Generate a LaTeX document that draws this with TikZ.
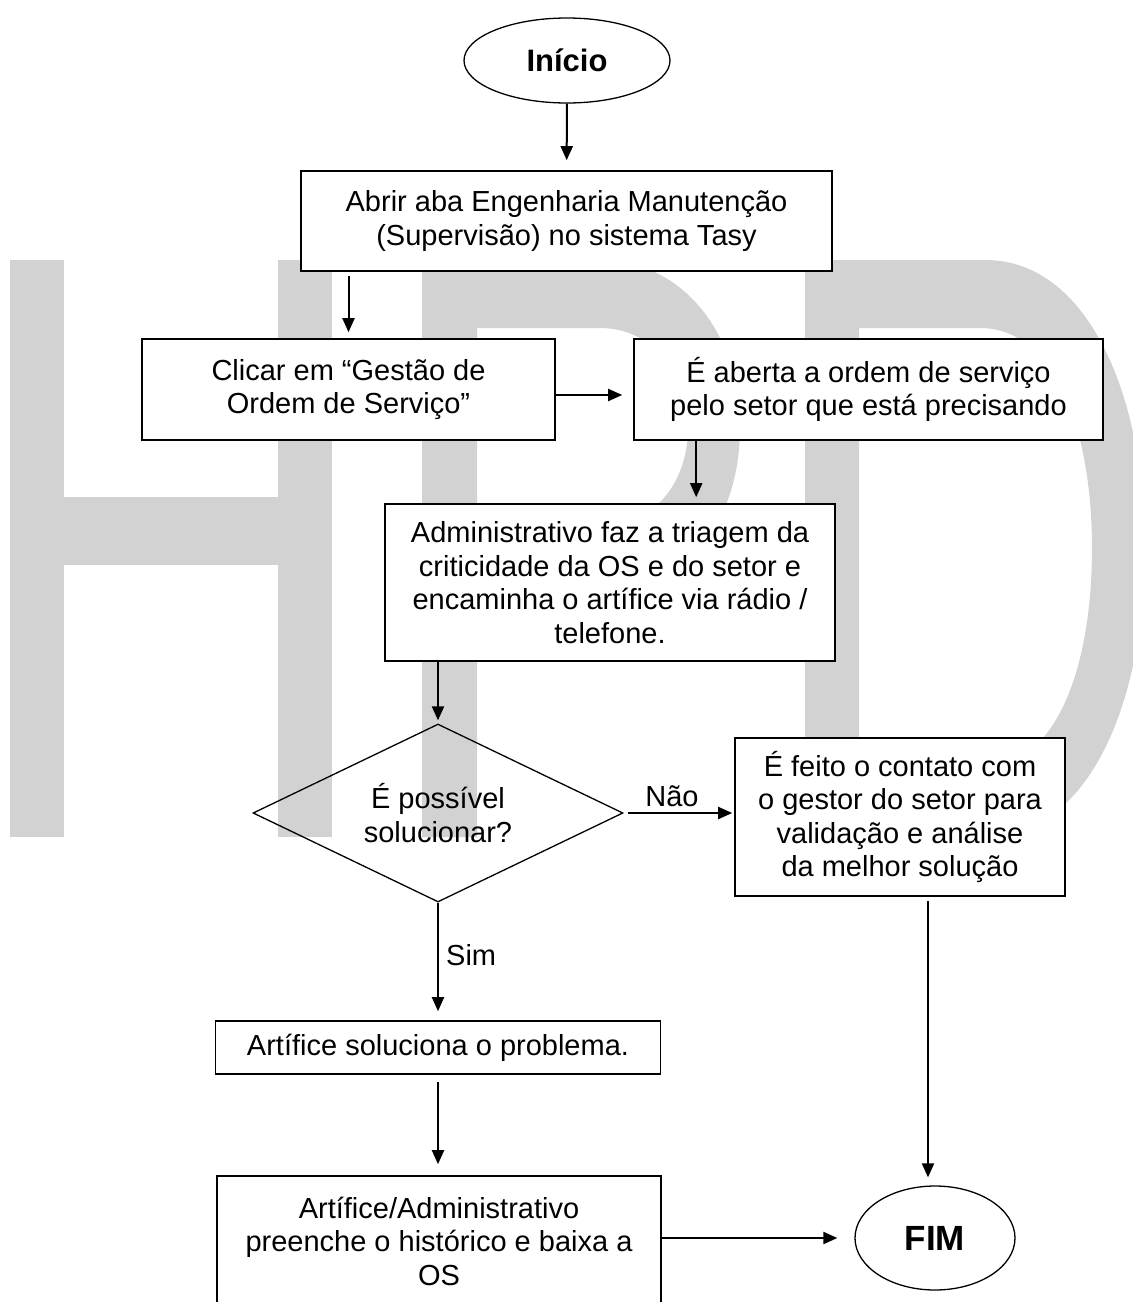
\documentclass[tikz,border=0pt]{standalone}
\usepackage{fontspec}
\setmainfont{Liberation Sans}
\usetikzlibrary{shapes.geometric,arrows.meta,calc}
\definecolor{wm}{RGB}{210,210,210}
\tikzset{
 box/.style={draw=black, line width=1.6pt, fill=white, rectangle, align=center, inner sep=0pt, font=\fontsize{29}{33.5}\selectfont},
 term/.style={draw=black, line width=1.3pt, fill=white, ellipse, inner sep=0pt},
 arr/.style={line width=2pt, -{Triangle[length=14pt,width=12pt]}},
 lbl/.style={font=\fontsize{29}{33.5}\selectfont, inner sep=0pt, align=center},
}
\begin{document}
\begin{tikzpicture}[x=1pt,y=-1pt]
\useasboundingbox (0,0) rectangle (1133,1302);
\clip (0,0) rectangle (1133,1302);
% watermark HPD
\fill[wm] (10,260) rectangle (64,837);
\fill[wm] (278,260) rectangle (332,837);
\fill[wm] (64,497) rectangle (278,565);
\fill[wm, even odd rule] (422,260) -- (600,260) .. controls (680,260) and (740,330) .. (740,428)
  .. controls (740,526) and (680,595) .. (600,595) -- (477,595) -- (477,837) -- (422,837) -- cycle
  (477,328) -- (600,328) .. controls (650,328) and (688,370) .. (688,428)
  .. controls (688,486) and (650,527) .. (600,527) -- (477,527) -- cycle;
\fill[wm, even odd rule] (805,260) -- (985,260) .. controls (1090,260) and (1145,400) .. (1145,548)
  .. controls (1145,700) and (1090,837) .. (985,837) -- (805,837) -- cycle
  (859,328) -- (980,328) .. controls (1055,328) and (1092,430) .. (1092,548)
  .. controls (1092,670) and (1055,769) .. (980,769) -- (859,769) -- cycle;
% nodes
\node[term, minimum width=206pt, minimum height=85pt, font=\bfseries\fontsize{31}{36}\selectfont] (start) at (567,60.5) {Início};
\node[box, minimum width=531pt, minimum height=100pt] (abrir) at (566.5,221) {Abrir aba Engenharia Manutenção\\(Supervisão) no sistema Tasy};
\node[box, minimum width=413pt, minimum height=101pt] (clicar) at (348.5,389.5) {Clicar em “Gestão de\\Ordem de Serviço”};
\node[box, minimum width=469pt, minimum height=101pt] (aberta) at (868.5,389.5) {É aberta a ordem de serviço\\pelo setor que está precisando};
\node[box, minimum width=450pt, minimum height=157pt] (adm) at (610,582.5) {Administrativo faz a triagem da\\criticidade da OS e do setor e\\encaminha o artífice via rádio /\\telefone.};
\node[diamond, draw=black, line width=1.3pt, minimum width=370pt, minimum height=178pt, inner sep=0pt] (dec) at (438,813) {};
\node[lbl] (declbl) at (dec.center) {É possível\\solucionar?};
\node[box, minimum width=330pt, minimum height=158pt] (feito) at (900,817) {É feito o contato com\\o gestor do setor para\\validação e análise\\da melhor solução};
\node[box, minimum width=445pt, minimum height=53pt] (art) at (438,1047.5) {Artífice soluciona o problema.};
\node[box, minimum width=444pt, minimum height=130pt] (artadm) at (439,1241) {Artífice/Administrativo\\preenche o histórico e baixa a\\OS};
\node[term, minimum width=160pt, minimum height=104pt, font=\bfseries\fontsize{35}{40}\selectfont] (fim) at (935,1238) {FIM};
% connectors
\draw[arr, shorten >=10pt] (start) -- (abrir);
\draw[arr, shorten <=4pt, shorten >=6pt] (abrir.south -| clicar.north) -- (clicar.north);
\draw[arr, shorten >=11pt] ([yshift=-5.5pt]clicar.east) -- ([yshift=-5.5pt]clicar.east -| aberta.west);
\draw[arr, shorten >=6pt] ([xshift=63pt]aberta.south west) -- ([xshift=63pt]aberta.south west |- adm.north);
\draw[arr, shorten >=3pt] (adm.south -| dec.north) -- (dec.north);
\draw[arr, shorten <=4pt, shorten >=2pt] (dec.east) -- (dec.east -| feito.west);
\draw[arr, shorten >=9pt] (dec.south) -- (dec.south |- art.north);
\draw[arr, shorten <=7pt, shorten >=11pt] (art.south) -- (art.south |- artadm.north);
\draw[arr, shorten >=17pt] (fim.west -| artadm.east) -- (fim.west);
\draw[arr, shorten <=4pt, shorten >=8pt] ([xshift=-7pt]fim.north |- feito.south) -- ([xshift=-7pt]fim.north);
% labels
\node[lbl] (nao) at (672,796) {Não};
\node[lbl, anchor=west] (sim) at (446,955) {Sim};
\end{tikzpicture}
\end{document}
